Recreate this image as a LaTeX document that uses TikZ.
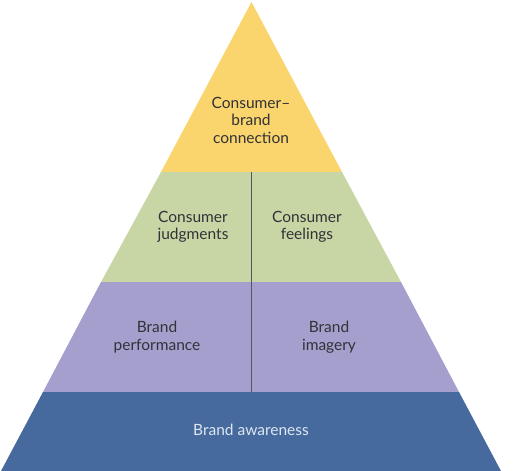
\documentclass[tikz,border=0pt]{standalone}
\usepackage{fontspec}
\setmainfont{Lato}
\usepackage{tikz}
\usetikzlibrary{positioning}
\definecolor{bbyellow}{RGB}{250,212,108}
\definecolor{bbgreen}{RGB}{200,214,166}
\definecolor{bbpurple}{RGB}{165,159,206}
\definecolor{bbblue}{RGB}{70,106,158}
\definecolor{bbtext}{RGB}{50,50,55}
\definecolor{bblight}{RGB}{222,230,240}
\definecolor{bbline}{RGB}{85,85,100}

\begin{document}
\begin{tikzpicture}[
  x=1pt, y=-1pt,
  lbl/.style={align=center, font=\fontsize{15.5}{17.5}\selectfont, text=bbtext, inner sep=0pt},
  split/.style={draw=bbline, line width=0.9pt}
]
\useasboundingbox (0,0) rectangle (514,471);
% pyramid bands
\fill[bbyellow] (251.5,2) -- (342,172) -- (161,172) -- cycle;
\fill[bbgreen]  (161,172) -- (342,172) -- (401,282) -- (101,282) -- cycle;
\fill[bbpurple] (101,282) -- (401,282) -- (459,392) -- (43,392) -- cycle;
\fill[bbblue]   (43,392) -- (459,392) -- (501,471) -- (1,471) -- cycle;
\coordinate (splittop) at (251,172);
\coordinate (splitbot) at (251,392);
\draw[split] (splittop) -- (splitbot);
% labels
\node[lbl] (connection)  at (251,120) {Consumer--\\brand\\connection};
\node[lbl] (judgments)   at (193,227) {Consumer\\judgments};
\node[lbl] (feelings)    at (307,227) {Consumer\\feelings};
\node[lbl] (performance) at (157,337) {Brand\\performance};
\node[lbl] (imagery)     at (329,337) {Brand\\imagery};
\node[lbl, text=bblight] (awareness) at (251,430) {Brand awareness};
\end{tikzpicture}
\end{document}
